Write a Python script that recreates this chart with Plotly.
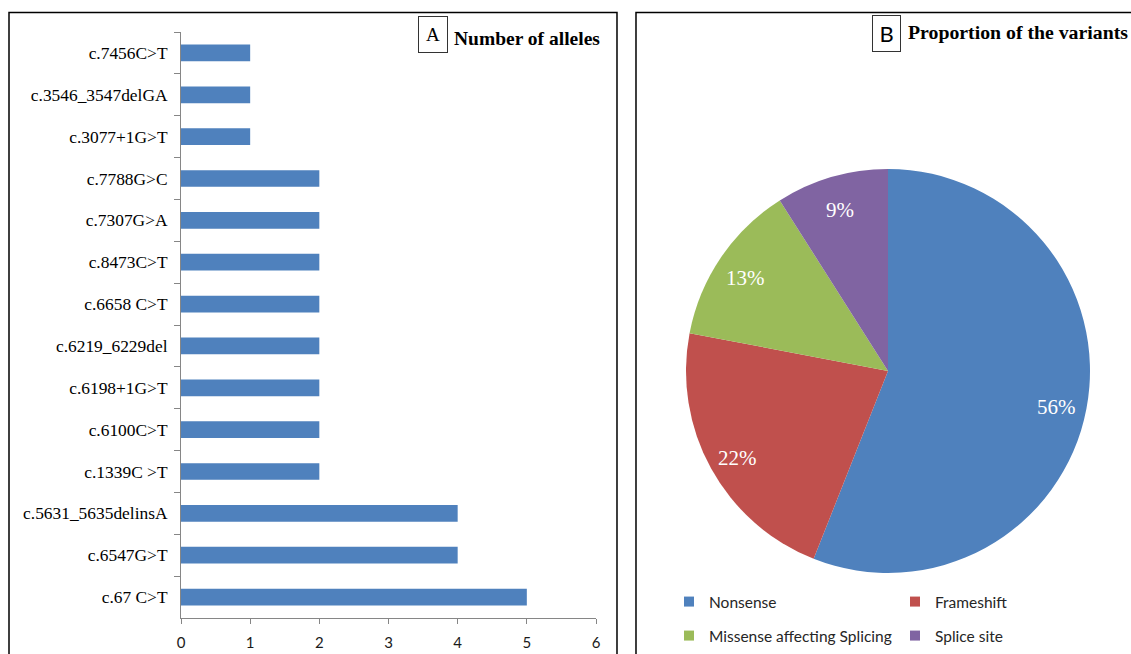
import math
import plotly.graph_objects as go

# ---- data ----
variants = ["c.7456C>T", "c.3546_3547delGA", "c.3077+1G>T", "c.7788G>C", "c.7307G>A",
            "c.8473C>T", "c.6658 C>T", "c.6219_6229del", "c.6198+1G>T", "c.6100C>T",
            "c.1339C >T", "c.5631_5635delinsA", "c.6547G>T", "c.67 C>T"]
alleles = [1, 1, 1, 2, 2, 2, 2, 2, 2, 2, 2, 4, 4, 5]
x_ticks = [0, 1, 2, 3, 4, 5, 6]

variant_types = ["Nonsense", "Frameshift", "Missense affecting Splicing", "Splice site"]
proportions = [56, 22, 13, 9]
type_colors = ["#4F81BD", "#C0504D", "#9BBB59", "#8064A2"]

W, H = 1131, 654
def px(x): return x / W
def py(y): return 1 - y / H

SERIF = "Liberation Serif"
SANS = "Lato"
AXIS = "#868686"

# pie placement (pixels)
PIE_CX, PIE_CY, PIE_R = 888, 371, 202
LABEL_K = 0.85  # radial position of the percentage labels

fig = go.Figure()

fig.add_trace(go.Bar(
    x=alleles, y=variants, orientation="h", width=0.4,
    marker=dict(color="#4F81BD", line=dict(width=0)),
    showlegend=False, hoverinfo="x+y",
))

fig.add_trace(go.Pie(
    labels=variant_types, values=proportions, sort=False, direction="clockwise",
    rotation=0, marker=dict(colors=type_colors, line=dict(width=0)),
    textinfo="none",
    domain=dict(x=[px(PIE_CX - PIE_R), px(PIE_CX + PIE_R)],
                y=[py(PIE_CY + PIE_R), py(PIE_CY - PIE_R)]),
    showlegend=False,
))

# legend entries (two rows, two columns)
for i, (name, col) in enumerate(zip(variant_types, type_colors)):
    fig.add_trace(go.Scatter(
        x=[None], y=[None], mode="markers", name=name,
        marker=dict(symbol="square", size=10, color=col),
        legend="legend" if i < 2 else "legend2", showlegend=True,
    ))

legend_common = dict(orientation="h", entrywidth=181, entrywidthmode="pixels",
                     font=dict(family=SANS, size=15.5, color="#262626"),
                     bgcolor="rgba(0,0,0,0)", xanchor="left", yanchor="middle",
                     itemclick=False, itemdoubleclick=False)

def path(points):
    return "M " + " L ".join(f"{px(x):.5f},{py(y):.5f}" for x, y in points)

# percentage labels placed along the mid-angle of each slice
total = sum(proportions)
pct_annotations = []
cum = 0
for v in proportions:
    mid = (cum + v / 2) / total
    cum += v
    theta = 2 * math.pi * mid
    lx = PIE_CX + LABEL_K * PIE_R * math.sin(theta)
    ly = PIE_CY - LABEL_K * PIE_R * math.cos(theta)
    pct_annotations.append(dict(
        text=f"{round(100 * v / total)}%", x=px(lx), y=py(ly + 4), xref="paper", yref="paper",
        showarrow=False, xanchor="center", yanchor="middle",
        font=dict(family=SERIF, size=21, color="white")))

fig.update_layout(
    width=W, height=H, margin=dict(l=0, r=0, t=0, b=0, autoexpand=False),
    paper_bgcolor="white", plot_bgcolor="white",
    xaxis=dict(domain=[px(181), px(596)], range=[0, 6], tickvals=x_ticks,
               showgrid=False, zeroline=False, showline=True, linecolor=AXIS, linewidth=1,
               ticks="outside", ticklen=5, tickcolor=AXIS, ticklabelstandoff=6,
               tickfont=dict(family=SANS, size=15, color="#1a1a1a"), fixedrange=True),
    yaxis=dict(domain=[py(618), py(32)], type="category", categoryorder="array",
               categoryarray=variants, autorange="reversed",
               showgrid=False, zeroline=False, showline=True, linecolor=AXIS, linewidth=1,
               ticks="outside", tickson="boundaries", ticklen=6, tickcolor=AXIS,
               ticklabelstandoff=9,
               tickfont=dict(family=SERIF, size=17.4, color="black"), fixedrange=True),
    bargap=0.6,
    legend=dict(x=px(669), y=py(602), **legend_common),
    legend2=dict(x=px(669), y=py(636), **legend_common),
    shapes=[
        dict(type="path", xref="paper", yref="paper",
             path=path([(9, 654), (9, 12.5), (617, 12.5), (617, 654)]),
             line=dict(color="black", width=1.5), layer="below"),
        dict(type="path", xref="paper", yref="paper",
             path=path([(636, 654), (636, 12.5), (1131, 12.5)]),
             line=dict(color="black", width=1.5), layer="below"),
    ],
    annotations=[
        dict(text="A", x=px(433), y=py(34.5), xref="paper", yref="paper", showarrow=False,
             xanchor="center", yanchor="middle", width=28, height=35, borderpad=0,
             bordercolor="#333333", borderwidth=1, font=dict(family=SERIF, size=19, color="black")),
        dict(text="<b>Number of alleles</b>", x=px(452), y=py(38), xref="paper", yref="paper",
             showarrow=False, xanchor="left", yanchor="middle",
             font=dict(family=SERIF, size=19.5, color="black")),
        dict(text="B", x=px(886.5), y=py(33.5), xref="paper", yref="paper", showarrow=False,
             xanchor="center", yanchor="middle", width=27, height=35, borderpad=0,
             bordercolor="#333333", borderwidth=1, font=dict(family=SANS, size=22, color="black")),
        dict(text="<b>Proportion of the variants</b>", x=px(906), y=py(32), xref="paper", yref="paper",
             showarrow=False, xanchor="left", yanchor="middle",
             font=dict(family=SERIF, size=19.8, color="black")),
    ] + pct_annotations,
)

fig.write_html("out.html")
